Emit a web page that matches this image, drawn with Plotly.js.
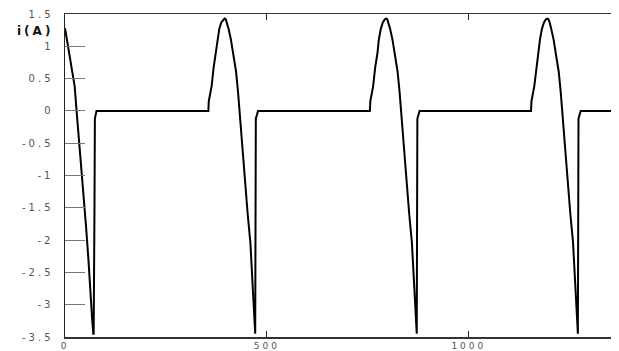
<!DOCTYPE html>
<html>
<head>
<meta charset="utf-8">
<script src="https://cdn.plot.ly/plotly-3.0.1.min.js"></script>
<style>
  html, body { margin: 0; padding: 0; background: #fff; }
  #chart { width: 619px; height: 351px; }
  .xtick text, .ytick text { letter-spacing: 3px; }
  .annotation-text { letter-spacing: 3px; }
</style>
</head>
<body>
<div id="chart"></div>
<script>
// time axis (samples) and current i(A)
const time = [
  0, 5, 11.6, 17.4, 24, 28, 32, 38, 42, 47, 52, 58, 62, 67, 70, 71, 73, 74, 78,
  355, 356, 363, 368, 374, 377, 382, 387, 392, 395, 398, 401, 405, 411, 417, 423.5, 428.5, 432.5, 436.7, 442.4, 446.7, 452.4, 459, 463, 467.5, 470, 471, 472.5, 478,
  755, 756, 763, 768, 774, 777, 782, 787, 792, 795, 798, 801, 805, 811, 817, 823.5, 828.5, 832.5, 836.7, 842.4, 846.7, 852.4, 859, 863, 867.5, 870, 871, 872.5, 878,
  1154, 1155, 1162, 1167, 1173, 1176, 1181, 1186, 1191, 1194, 1197, 1200, 1204, 1210, 1216, 1222.5, 1227.5, 1231.5, 1235.7, 1241.4, 1245.7, 1251.4, 1258, 1262, 1266.5, 1269, 1270, 1271.5, 1277,
  1352
];
const current = [
  1.28, 1.09, 0.91, 0.68, 0.38, 0.05, -0.25, -0.6, -1.02, -1.41, -1.78, -2.3, -2.8, -3.2, -3.45, -3.45, -1.5, -0.12, 0,
  0, 0.15, 0.38, 0.67, 0.91, 1.1, 1.27, 1.37, 1.42, 1.43, 1.42, 1.37, 1.27, 1.1, 0.86, 0.61, 0.29, -0.05, -0.38, -0.78, -1.17, -1.6, -2.04, -2.5, -2.94, -3.3, -3.45, -0.12, 0,
  0, 0.15, 0.38, 0.67, 0.91, 1.1, 1.27, 1.37, 1.42, 1.43, 1.42, 1.37, 1.27, 1.1, 0.86, 0.61, 0.29, -0.05, -0.38, -0.78, -1.17, -1.6, -2.04, -2.5, -2.94, -3.3, -3.45, -0.12, 0,
  0, 0.15, 0.38, 0.67, 0.91, 1.1, 1.27, 1.37, 1.42, 1.43, 1.42, 1.37, 1.27, 1.1, 0.86, 0.61, 0.29, -0.05, -0.38, -0.78, -1.17, -1.6, -2.04, -2.5, -2.94, -3.3, -3.45, -0.12, 0,
  0
];
const xTickVals = [0, 500, 1000];
const xTickText = ['0', '500', '1000'];
const yTickVals = [1.5, 1, 0.5, 0, -0.5, -1, -1.5, -2, -2.5, -3, -3.5];
const yTickText = ['1.5', '1', '0.5', '0', '-0.5', '-1', '-1.5', '-2', '-2.5', '-3', '-3.5'];
const yLabel = 'i(A)';

const tickFont = { family: 'DejaVu Sans, sans-serif', size: 10, color: '#555' };

Plotly.newPlot('chart', [{
  x: time,
  y: current,
  type: 'scatter',
  mode: 'lines',
  line: { color: '#000', width: 2 },
  hoverinfo: 'skip'
}], {
  width: 619,
  height: 351,
  margin: { l: 65, r: 8, t: 14, b: 14, pad: 0 },
  paper_bgcolor: '#fff',
  plot_bgcolor: '#fff',
  showlegend: false,
  xaxis: {
    range: [0, 1352],
    tickmode: 'array', tickvals: xTickVals, ticktext: xTickText,
    ticks: 'inside', ticklen: 6, tickwidth: 1, tickcolor: '#222',
    showline: true, linecolor: '#333', linewidth: 1.5, mirror: 'ticks',
    showgrid: false, zeroline: false,
    ticklabelstandoff: 0,
    tickfont: { family: 'DejaVu Sans, sans-serif', size: 9, color: '#555' }
  },
  yaxis: {
    range: [-3.5, 1.5],
    tickmode: 'array', tickvals: yTickVals, ticktext: yTickText,
    ticks: 'inside', ticklen: 20, tickwidth: 1, tickcolor: '#777',
    showline: true, linecolor: '#222', linewidth: 1.5, mirror: false,
    showgrid: false, zeroline: false,
    ticklabelstandoff: 8,
    tickfont: tickFont
  },
  annotations: [{
    text: '<b>' + yLabel + '</b>',
    xref: 'paper', yref: 'paper',
    x: -0.0916, y: 0.948, xanchor: 'left', yanchor: 'middle',
    showarrow: false,
    font: { family: 'DejaVu Sans, sans-serif', size: 12, color: '#111' }
  }]
}, { staticPlot: true, displayModeBar: false });
</script>
</body>
</html>
